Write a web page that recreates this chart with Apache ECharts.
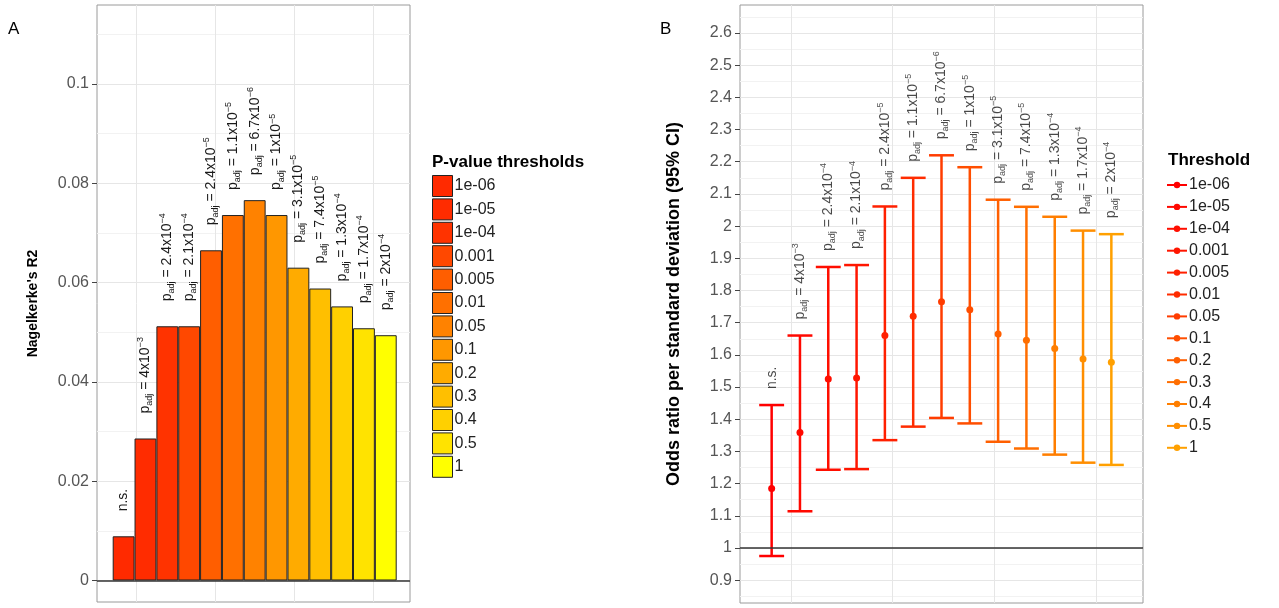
<!DOCTYPE html>
<html>
<head>
<meta charset="utf-8">
<script src="https://cdn.jsdelivr.net/npm/echarts@6/dist/echarts.min.js"></script>
<style>
    html, body { margin: 0; padding: 0; background: #fff; }
    #chart { width: 1279px; height: 608px; }
</style>
</head>
<body>
<div id="chart"></div>
<script>
// thresholds (shared by both panels)
const thresholds = ['1e-06', '1e-05', '1e-04', '0.001', '0.005', '0.01', '0.05', '0.1', '0.2', '0.3', '0.4', '0.5', '1'];
// adjusted p-values written above each bar / error bar
const pLabels = ['n.s.', '4x10^-3', '2.4x10^-4', '2.1x10^-4', '2.4x10^-5', '1.1x10^-5', '6.7x10^-6', '1x10^-5', '3.1x10^-5', '7.4x10^-5', '1.3x10^-4', '1.7x10^-4', '2x10^-4'];

// panel A
const r2Values = [0.0089, 0.0286, 0.0512, 0.0512, 0.0665, 0.0736, 0.0766, 0.0736, 0.0630, 0.0588, 0.0552, 0.0508, 0.0494];
const r2Ticks = [0, 0.02, 0.04, 0.06, 0.08, 0.1];
const barColors = ['#ff2a00', '#ff2c00', '#ff3300', '#ff4800', '#ff5e00', '#ff7000', '#ff8200', '#ff9700', '#ffab00', '#ffbf00', '#ffd000', '#ffe300', '#ffff00'];

// panel B
const orLower = [0.975, 1.114, 1.243, 1.245, 1.335, 1.377, 1.404, 1.387, 1.330, 1.309, 1.290, 1.265, 1.258];
const orEstimate = [1.185, 1.359, 1.525, 1.528, 1.660, 1.720, 1.765, 1.740, 1.665, 1.645, 1.620, 1.587, 1.577];
const orUpper = [1.444, 1.660, 1.873, 1.879, 2.061, 2.150, 2.220, 2.183, 2.082, 2.060, 2.029, 1.986, 1.975];
const orTicks = [0.9, 1, 1.1, 1.2, 1.3, 1.4, 1.5, 1.6, 1.7, 1.8, 1.9, 2, 2.1, 2.2, 2.3, 2.4, 2.5, 2.6];
const orColors = ['#ff0000', '#ff0800', '#ff0e00', '#ff1600', '#ff2000', '#ff2c00', '#ff3c00', '#ff4e00', '#ff5f00', '#ff6e00', '#ff7e00', '#ff8e00', '#ffa000'];

const FONT = "'Liberation Sans', Arial, sans-serif";
const GRID_MAJOR = '#e6e6e6';
const GRID_MINOR = '#f2f2f2';

function pLabel(i) {
    const t = pLabels[i];
    if (t === 'n.s.') return '{m|n.s.}';
    const parts = t.split('^');
    return '{m|p}{s|adj}{m| = ' + parts[0] + '}{e|' + parts[1].replace('-', '\u2212') + '}';
}

const labelRich = {
    m: { fontSize: 14, fontFamily: FONT, color: '#1a1a1a', lineHeight: 18 },
    s: { fontSize: 9, fontFamily: FONT, color: '#1a1a1a', lineHeight: 9, verticalAlign: 'bottom' },
    e: { fontSize: 9, fontFamily: FONT, color: '#1a1a1a', lineHeight: 9, verticalAlign: 'top' },
};

function rotatedLabel(distance, i) {
    return {
        show: true,
        position: 'top',
        distance: distance,
        rotate: 90,
        align: 'left',
        verticalAlign: 'middle',
        formatter: () => pLabel(i),
        rich: labelRich,
    };
}

function bgXAxis(gridIndex, max) {
    return {
        gridIndex: gridIndex,
        type: 'value',
        min: 0,
        max: max,
        interval: 1,
        axisLine: { show: false },
        axisTick: { show: false },
        axisLabel: { show: false },
        splitLine: { show: false },
        minorTick: { show: false, splitNumber: 2 },
        minorSplitLine: { show: true, lineStyle: { color: GRID_MAJOR, width: 1 } },
    };
}

function bgYAxis(gridIndex, min, max, splitNumber, ticks, name, nameSize) {
    return {
        gridIndex: gridIndex,
        type: 'value',
        min: min,
        max: max,
        splitNumber: splitNumber,
        name: name,
        nameLocation: 'middle',
        nameGap: 57,
        nameTextStyle: { fontFamily: FONT, fontSize: nameSize, fontWeight: 'bold', color: '#000' },
        axisLine: { show: false },
        axisTick: { show: true, length: 5, customValues: ticks, lineStyle: { color: '#444', width: 1 } },
        axisLabel: {
            show: true,
            margin: 8,
            customValues: ticks,
            fontFamily: FONT,
            fontSize: 16,
            color: '#555',
        },
        splitLine: { show: true, lineStyle: { color: GRID_MAJOR, width: 1 } },
        minorTick: { show: false, splitNumber: 2 },
        minorSplitLine: { show: true, lineStyle: { color: GRID_MINOR, width: 1 } },
    };
}

const hiddenCategory = (gridIndex) => ({ gridIndex: gridIndex, type: 'category', data: thresholds, show: false });
const hiddenValue = (gridIndex, min, max) => ({ gridIndex: gridIndex, type: 'value', min: min, max: max, show: false, splitLine: { show: false } });

const yA = [-0.00433, 0.1159];
const yB = [0.829, 2.687];

const series = [];

// panel A bars, one series per threshold so the legend gets one key each
thresholds.forEach((t, i) => {
    series.push({
        name: t,
        type: 'bar',
        xAxisIndex: 1,
        yAxisIndex: 1,
        barGap: '-100%',
        barCategoryGap: '0%',
        data: thresholds.map((_, j) => (j === i ? r2Values[i] : '-')),
        itemStyle: { color: barColors[i], borderColor: '#222', borderWidth: 1 },
        label: rotatedLabel(25, i),
    });
});

// reference line at 0 (panel A)
series.push({
    type: 'line',
    xAxisIndex: 0,
    yAxisIndex: 0,
    data: [],
    markLine: {
        silent: true,
        symbol: 'none',
        label: { show: false },
        lineStyle: { color: '#333', width: 1.5, type: 'solid' },
        data: [{ yAxis: 0 }],
    },
});

// reference line at 1 (panel B)
series.push({
    type: 'line',
    xAxisIndex: 2,
    yAxisIndex: 2,
    data: [],
    markLine: {
        silent: true,
        symbol: 'none',
        label: { show: false },
        lineStyle: { color: '#333', width: 1.5, type: 'solid' },
        data: [{ yAxis: 1 }],
    },
});

// panel B error bars
series.push({
    type: 'custom',
    xAxisIndex: 3,
    yAxisIndex: 3,
    data: thresholds.map((t, i) => [i, orLower[i], orUpper[i]]),
    encode: { x: 0, y: [1, 2] },
    renderItem: function (params, api) {
        const i = api.value(0);
        const lo = api.coord([i, api.value(1)]);
        const hi = api.coord([i, api.value(2)]);
        const half = api.size([1, 0])[0] * 0.44;
        const style = { stroke: orColors[params.dataIndex], lineWidth: 2.5, fill: null };
        return {
            type: 'group',
            children: [
                { type: 'line', shape: { x1: hi[0], y1: hi[1], x2: lo[0], y2: lo[1] }, style: style },
                { type: 'line', shape: { x1: hi[0] - half, y1: hi[1], x2: hi[0] + half, y2: hi[1] }, style: style },
                { type: 'line', shape: { x1: lo[0] - half, y1: lo[1], x2: lo[0] + half, y2: lo[1] }, style: style },
            ],
        };
    },
});

// panel B point estimates
thresholds.forEach((t, i) => {
    series.push({
        name: 'B:' + t,
        type: 'line',
        xAxisIndex: 3,
        yAxisIndex: 3,
        symbol: 'circle',
        symbolSize: 7,
        showSymbol: true,
        color: orColors[i],
        lineStyle: { width: 2.5 },
        data: thresholds.map((_, j) => (j === i ? orEstimate[i] : '-')),
        z: 5,
    });
});

// panel B p-value labels above the upper limits
series.push({
    type: 'scatter',
    xAxisIndex: 3,
    yAxisIndex: 3,
    symbolSize: 0,
    silent: true,
    data: orUpper,
    label: {
        show: true,
        position: 'top',
        distance: 16,
        rotate: 90,
        align: 'left',
        verticalAlign: 'middle',
        formatter: (p) => pLabel(p.dataIndex),
        rich: labelRich,
    },
});

const option = {
    animation: false,
    backgroundColor: '#fff',
    textStyle: { fontFamily: FONT },
    title: [
        { text: 'A', left: 8, top: 21, padding: 0, textStyle: { fontFamily: FONT, fontSize: 17, fontWeight: 'normal', color: '#000' } },
        { text: 'B', left: 660, top: 21, padding: 0, textStyle: { fontFamily: FONT, fontSize: 17, fontWeight: 'normal', color: '#000' } },
        { text: 'P-value thresholds', left: 432, top: 154, padding: 0, textStyle: { fontFamily: FONT, fontSize: 17, fontWeight: 'bold', color: '#000' } },
        { text: 'Threshold', left: 1168, top: 152, padding: 0, textStyle: { fontFamily: FONT, fontSize: 17, fontWeight: 'bold', color: '#000' } },
    ],
    legend: [
        {
            data: thresholds,
            orient: 'vertical',
            left: 432,
            top: 175,
            padding: 0,
            itemWidth: 20,
            itemHeight: 21,
            itemGap: 1.4,
            icon: 'rect',
            selectedMode: false,
            itemStyle: { borderColor: '#222', borderWidth: 1 },
            textStyle: { fontFamily: FONT, fontSize: 16, color: '#222', padding: [0, 0, 0, -3] },
        },
        {
            data: thresholds.map((t) => 'B:' + t),
            formatter: (name) => name.slice(2),
            orient: 'vertical',
            left: 1166,
            top: 177,
            padding: 0,
            itemWidth: 20,
            itemHeight: 8,
            itemGap: 5.9,
            selectedMode: false,
            lineStyle: { width: 2 },
            textStyle: { fontFamily: FONT, fontSize: 16, color: '#222', lineHeight: 16, padding: [0, 0, 0, -3] },
        },
    ],
    grid: [
        { left: 97, top: 5, width: 313, height: 597, show: true, borderColor: '#9a9a9a', borderWidth: 1, backgroundColor: '#fff' },
        { left: 112.7, top: 5, width: 284, height: 597 },
        { left: 740, top: 5, width: 403, height: 598, show: true, borderColor: '#9a9a9a', borderWidth: 1, backgroundColor: '#fff' },
        { left: 757.5, top: 5, width: 368, height: 598 },
    ],
    xAxis: [
        bgXAxis(0, 313 / 78.9),
        hiddenCategory(1),
        bgXAxis(2, 403 / 101.7),
        hiddenCategory(3),
    ],
    yAxis: [
        bgYAxis(0, yA[0], yA[1], 6, r2Ticks, "Nagelkerke's R2", 14),
        hiddenValue(1, yA[0], yA[1]),
        bgYAxis(2, yB[0], yB[1], 18, orTicks, 'Odds ratio per standard deviation (95% CI)', 18),
        hiddenValue(3, yB[0], yB[1]),
    ],
    series: series,
};

const chart = echarts.init(document.getElementById('chart'));
chart.setOption(option);
window.addEventListener('resize', () => chart.resize());
</script>
</body>
</html>
